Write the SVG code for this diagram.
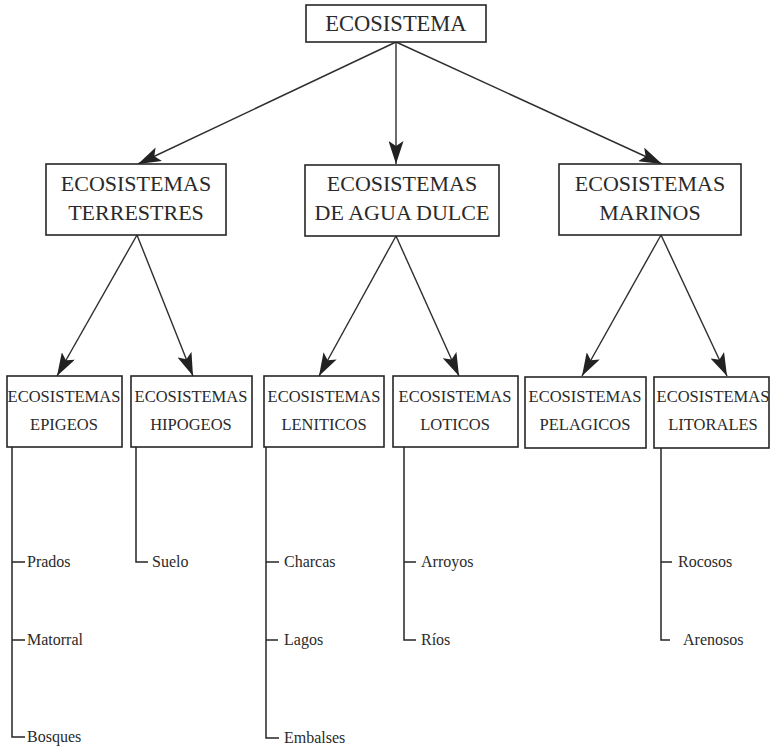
<svg xmlns="http://www.w3.org/2000/svg" width="770" height="748" viewBox="0 0 770 748">
  <defs>
    <marker id="arrow" viewBox="0 0 23 15" refX="23" refY="7.5" markerWidth="23" markerHeight="15" markerUnits="userSpaceOnUse" orient="auto">
      <path d="M0,0 L23,7.5 L0,15 L5,7.5 z" fill="#222222"/>
    </marker>
    <style>
      .box { fill: #ffffff; stroke: #262626; stroke-width: 1.6; }
      .edge { stroke: #2e2e2e; stroke-width: 1.4; fill: none; }
      .tree { stroke: #262626; stroke-width: 1.5; fill: none; }
      text { font-family: "Liberation Serif", "DejaVu Serif", serif; fill: #2a2a2a; }
      .t1 { font-size: 22.5px; text-anchor: middle; }
      .t2 { font-size: 22px; text-anchor: middle; }
      .t3 { font-size: 16.5px; text-anchor: middle; }
      .leaf { font-size: 16px; }
    </style>
  </defs>
  <rect width="770" height="748" fill="#ffffff"/>

  <!-- connectors -->
  <g id="connectors">
    <line class="edge" x1="396" y1="42" x2="138" y2="164" marker-end="url(#arrow)"/>
    <line class="edge" x1="396" y1="42" x2="396" y2="164" marker-end="url(#arrow)"/>
    <line class="edge" x1="396" y1="42" x2="662" y2="164" marker-end="url(#arrow)"/>

    <line class="edge" x1="137" y1="235" x2="57" y2="376" marker-end="url(#arrow)"/>
    <line class="edge" x1="137" y1="235" x2="193" y2="376" marker-end="url(#arrow)"/>
    <line class="edge" x1="396" y1="236" x2="319" y2="376" marker-end="url(#arrow)"/>
    <line class="edge" x1="396" y1="236" x2="459" y2="376" marker-end="url(#arrow)"/>
    <line class="edge" x1="661" y1="235" x2="582" y2="376" marker-end="url(#arrow)"/>
    <line class="edge" x1="661" y1="235" x2="727" y2="376" marker-end="url(#arrow)"/>

    <!-- branch lists -->
    <path class="tree" d="M12,447 V737 H25 M12,562 H25 M12,640 H25"/>
    <path class="tree" d="M136,447 V562 H148"/>
    <path class="tree" d="M266,447 V738 H279 M266,562 H279 M266,640 H278"/>
    <path class="tree" d="M404,447 V640 H416 M404,562 H416"/>
    <path class="tree" d="M661,447 V640 H670 M661,562 H672"/>
  </g>

  <!-- root -->
  <g id="ecosistema">
    <rect class="box" x="306" y="5" width="180" height="37"/>
    <text class="t1" x="396" y="31">ECOSISTEMA</text>
  </g>

  <!-- second level -->
  <g id="terrestres">
    <rect class="box" x="46" y="164" width="180" height="71"/>
    <text class="t2" x="136" y="191">ECOSISTEMAS</text>
    <text class="t2" x="136" y="220">TERRESTRES</text>
  </g>
  <g id="agua-dulce">
    <rect class="box" x="305" y="165" width="194" height="71"/>
    <text class="t2" x="402" y="191">ECOSISTEMAS</text>
    <text class="t2" x="402" y="220">DE AGUA DULCE</text>
  </g>
  <g id="marinos">
    <rect class="box" x="559" y="164" width="182" height="71"/>
    <text class="t2" x="650" y="191">ECOSISTEMAS</text>
    <text class="t2" x="650" y="220">MARINOS</text>
  </g>

  <!-- third level -->
  <g id="epigeos">
    <rect class="box" x="7" y="376" width="115" height="71"/>
    <text class="t3" x="64" y="402">ECOSISTEMAS</text>
    <text class="t3" x="64" y="430">EPIGEOS</text>
  </g>
  <g id="hipogeos">
    <rect class="box" x="131" y="376" width="121" height="71"/>
    <text class="t3" x="191" y="402">ECOSISTEMAS</text>
    <text class="t3" x="191" y="430">HIPOGEOS</text>
  </g>
  <g id="leniticos">
    <rect class="box" x="264" y="376" width="120" height="71"/>
    <text class="t3" x="324" y="402">ECOSISTEMAS</text>
    <text class="t3" x="324" y="430">LENITICOS</text>
  </g>
  <g id="loticos">
    <rect class="box" x="393" y="376" width="125" height="71"/>
    <text class="t3" x="455" y="402">ECOSISTEMAS</text>
    <text class="t3" x="455" y="430">LOTICOS</text>
  </g>
  <g id="pelagicos">
    <rect class="box" x="525" y="377" width="121" height="71"/>
    <text class="t3" x="585" y="402">ECOSISTEMAS</text>
    <text class="t3" x="585" y="430">PELAGICOS</text>
  </g>
  <g id="litorales">
    <rect class="box" x="654" y="377" width="115" height="71"/>
    <text class="t3" x="713" y="402">ECOSISTEMAS</text>
    <text class="t3" x="713" y="430">LITORALES</text>
  </g>

  <!-- leaf labels -->
  <g id="leaves">
    <text class="leaf" x="27" y="567">Prados</text>
    <text class="leaf" x="27" y="645">Matorral</text>
    <text class="leaf" x="27" y="742">Bosques</text>
    <text class="leaf" x="152" y="567">Suelo</text>
    <text class="leaf" x="284" y="567">Charcas</text>
    <text class="leaf" x="284" y="645">Lagos</text>
    <text class="leaf" x="284" y="743">Embalses</text>
    <text class="leaf" x="421" y="567">Arroyos</text>
    <text class="leaf" x="421" y="645">Ríos</text>
    <text class="leaf" x="678" y="567">Rocosos</text>
    <text class="leaf" x="683" y="645">Arenosos</text>
  </g>
</svg>
